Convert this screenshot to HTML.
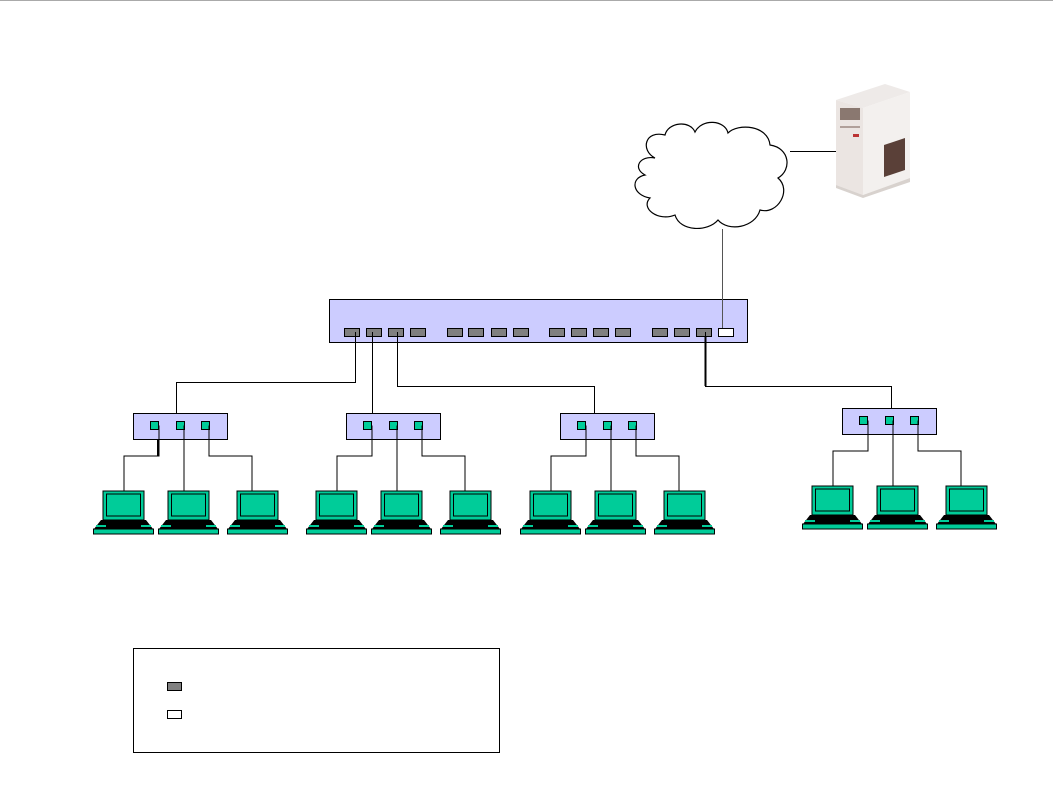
<!DOCTYPE html>
<html><head><style>html,body{margin:0;padding:0;background:#fff;}svg{display:block;}</style></head>
<body>
<svg width="1053" height="806" viewBox="0 0 1053 806" xmlns="http://www.w3.org/2000/svg">
<defs>
<g id="lap">
  <rect x="10" y="0" width="41" height="29" fill="#00cc99" stroke="#000" stroke-width="1"/>
  <rect x="13.5" y="3" width="34" height="22" fill="#00cc99" stroke="#000" stroke-width="1"/>
  <polygon points="8,29 53,29 60,38 1,38" fill="#000"/>
  <rect x="3" y="34" width="10" height="2" fill="#00cc99"/>
  <rect x="48" y="34" width="10" height="2" fill="#00cc99"/>
  <rect x="0.5" y="38" width="60" height="5" fill="#00cc99" stroke="#000" stroke-width="1"/>
</g>
<g id="hub">
  <rect x="0.5" y="0.5" width="94" height="26" fill="#ccccff" stroke="#000"/>
  <rect x="17.5" y="8.5" width="8" height="8" fill="#00cc99" stroke="#000"/>
  <rect x="43.5" y="8.5" width="8" height="8" fill="#00cc99" stroke="#000"/>
  <rect x="68.5" y="8.5" width="8" height="8" fill="#00cc99" stroke="#000"/>
  <polyline points="26,12.5 26,43 -9,43 -9,78" fill="none" stroke="#000"/>
  <line x1="51" y1="12.5" x2="51" y2="78" stroke="#000"/>
  <polyline points="76,12.5 76,43 119,43 119,78" fill="none" stroke="#000"/>
  <use href="#lap" x="-40" y="78"/>
  <use href="#lap" x="25" y="78"/>
  <use href="#lap" x="94" y="78"/>
</g>
</defs>
<line x1="0" y1="0.5" x2="1053" y2="0.5" stroke="#aaa"/>

<rect x="329.5" y="299.5" width="418" height="43" fill="#ccccff" stroke="#000"/>
<g fill="#808080" stroke="#000">
<rect x="344.5" y="328.5" width="15" height="8"/><rect x="366.5" y="328.5" width="15" height="8"/><rect x="388.5" y="328.5" width="15" height="8"/><rect x="410.5" y="328.5" width="15" height="8"/>
<rect x="447.5" y="328.5" width="15" height="8"/><rect x="468.5" y="328.5" width="15" height="8"/><rect x="491.5" y="328.5" width="15" height="8"/><rect x="513.5" y="328.5" width="15" height="8"/>
<rect x="549.5" y="328.5" width="15" height="8"/><rect x="571.5" y="328.5" width="15" height="8"/><rect x="593.5" y="328.5" width="15" height="8"/><rect x="615.5" y="328.5" width="15" height="8"/>
<rect x="652.5" y="328.5" width="15" height="8"/><rect x="674.5" y="328.5" width="15" height="8"/><rect x="696.5" y="328.5" width="15" height="8"/>
</g>
<rect x="718.5" y="328.5" width="15" height="8" fill="#fff" stroke="#000"/>

<g fill="none" stroke="#000">
<polyline points="355.5,332 355.5,382.5 176.5,382.5 176.5,413"/>
<line x1="372.5" y1="332" x2="372.5" y2="413"/>
<polyline points="397.5,332 397.5,386.5 594.5,386.5 594.5,413"/>
<polyline points="705.5,332 705.5,386.5 891.5,386.5 891.5,408" />
<line x1="705.5" y1="336" x2="705.5" y2="386" stroke-width="2"/>
<line x1="722.5" y1="229" x2="722.5" y2="328" stroke="#555"/>
<line x1="790" y1="151.5" x2="842" y2="151.5"/>
<line x1="158" y1="429" x2="158" y2="456" stroke-width="2"/>
</g>

<use href="#hub" x="133" y="413"/>
<use href="#hub" x="346" y="413"/>
<use href="#hub" x="560" y="413"/>
<use href="#hub" x="842" y="408"/>

<path d="M655,158 C640,150 645,130 665,135 C668,122 690,120 695,132 C702,118 725,120 728,133 C738,123 768,125 770,145 C790,148 792,170 778,178 C792,190 778,215 760,210 C755,228 728,232 718,220 C708,232 680,232 675,215 C658,222 640,208 650,198 C632,195 630,178 645,175 C632,168 640,155 655,158 Z" fill="#fff" stroke="#000" stroke-width="1.2"/>

<polygon points="836,100 885,84 910,92 863,108" fill="#eeeae8"/>
<polygon points="836,100 863,108 863,195 836,185" fill="#ebe5e2"/>
<polygon points="863,108 910,92 910,178 863,195" fill="#f3f0ee"/>
<rect x="840" y="108" width="20" height="12" fill="#8a7870"/>
<rect x="840" y="126" width="20" height="2" fill="#b0a09a"/>
<rect x="853" y="134" width="6" height="3" fill="#b33"/>
<polygon points="884,145 905,138 905,170 884,177" fill="#5a4038"/>
<polygon points="836,185 863,195 910,178 910,182 863,198 836,188" fill="#d8d2ce"/>

<rect x="133.5" y="648.5" width="366" height="104" fill="#fff" stroke="#000"/>
<rect x="167.5" y="682.5" width="14" height="8" fill="#808080" stroke="#000"/>
<rect x="167.5" y="710.5" width="14" height="8" fill="#fff" stroke="#000"/>
</svg>
</body></html>
